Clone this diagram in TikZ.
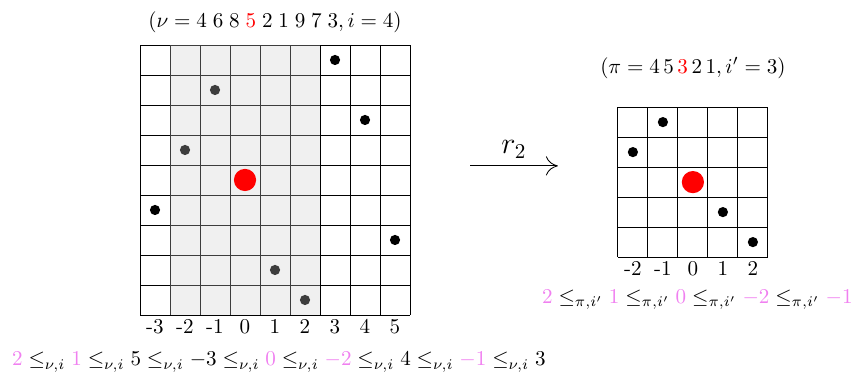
\documentclass[tikz,border=0pt]{standalone}
\usepackage{xcolor}
\usetikzlibrary{arrows.meta,positioning}
\definecolor{permPink}{HTML}{F080F0}
\newcommand{\Pk}[1]{\textcolor{permPink}{#1}}
\newcommand{\LeqNu}{\leq_{\nu,i}}
\newcommand{\LeqPi}{\leq_{\pi,i'}}

\begin{document}
\begin{tikzpicture}[x=5mm,y=5mm,
  dot/.style={circle, fill=black, inner sep=0pt, minimum size=1.7mm},
  bigdot/.style={circle, fill=red, inner sep=0pt, minimum size=3.7mm},
  ticklab/.style={anchor=north, inner sep=2pt},
  shade/.style={fill=gray!40, opacity=0.3}]

  \useasboundingbox (-4.667,-2.033) rectangle (23.767,10.5);

  % ===================== left grid (nu) =====================
  \foreach \t in {0,...,9} {
    \draw (\t,0) -- (\t,9);
    \draw (0,\t) -- (9,\t);
  }
  \foreach \c/\v in {1/4,2/6,3/8,5/2,6/1,7/9,8/7,9/3}
    \node[dot] (nu\c) at (\c-0.5,\v-0.5) {};
  % window around i
  \fill[shade] (1,0) rectangle (6,9);
  \node[bigdot] (nu4) at (3.5,4.5) {};

  \foreach \k [count=\c] in {-3,...,5}
    \node[ticklab] (nx\c) at (\c-0.5,0) {\k};

  \node (nutitle) at (4.5,9.77)
    {$(\nu = 4\;6\;8\;\textcolor{red}{5}\;2\;1\;9\;7\;3, i = 4)$};

  \node (nuorder) at (4.63,-1.57)
    {$\Pk{2} \LeqNu \Pk{1} \LeqNu 5 \LeqNu -3 \LeqNu \Pk{0} \LeqNu \Pk{-2} \LeqNu 4 \LeqNu \Pk{-1} \LeqNu 3$};

  % ===================== map r_2 =====================
  \coordinate (ra) at (11,4.97);
  \coordinate (rb) at (13.93,4.97);
  \draw[-{To[length=2mm,width=3.2mm]}] (ra) -- node[above,font=\Large] (rlab) {$r_2$} (rb);

  % ===================== right grid (pi) =====================
  \begin{scope}[shift={(15.93,1.93)}]
    \foreach \t in {0,...,5} {
      \draw (\t,0) -- (\t,5);
      \draw (0,\t) -- (5,\t);
    }
    \foreach \c/\v in {1/4,2/5,4/2,5/1}
      \node[dot] (pi\c) at (\c-0.5,\v-0.5) {};
    \node[bigdot] (pi3) at (2.5,2.5) {};
    \foreach \k [count=\c] in {-2,...,2}
      \node[ticklab] (px\c) at (\c-0.5,0) {\k};
    \node (pititle) at (2.5,6.3)
      {$(\pi = 4\,5\,\textcolor{red}{3}\,2\,1, i' = 3)$};
  \end{scope}

  \node (piorder) at (18.58,0.5)
    {$\Pk{2} \LeqPi \Pk{1} \LeqPi \Pk{0} \LeqPi \Pk{-2} \LeqPi \Pk{-1}$};
\end{tikzpicture}
\end{document}
